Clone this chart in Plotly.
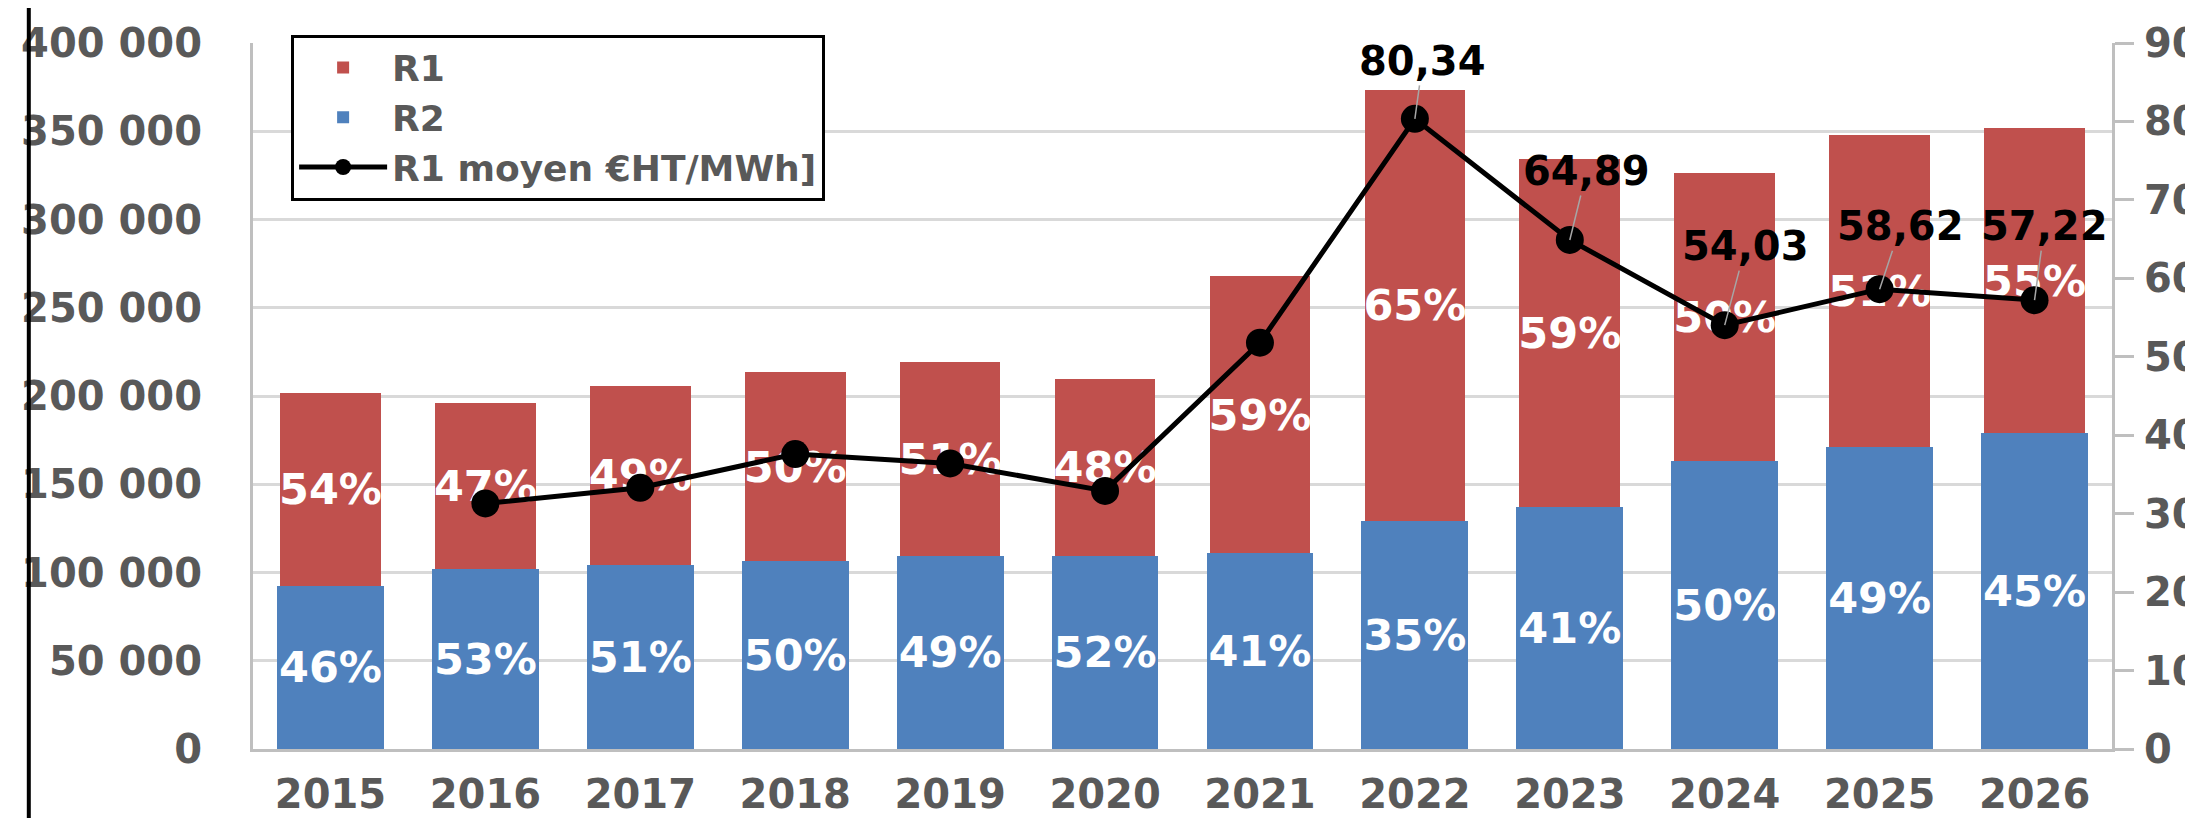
import plotly.graph_objects as go

# ---- data ----
years = ["2015", "2016", "2017", "2018", "2019", "2020",
         "2021", "2022", "2023", "2024", "2025", "2026"]
r2_values = [92500, 102000, 104400, 106300, 109500, 109500,
             111000, 129400, 137300, 163000, 171000, 178900]
r1_values = [109200, 94000, 101300, 107300, 109800, 100100,
             156800, 244100, 197000, 163300, 176900, 172900]
r1_share_labels = ["54%", "47%", "49%", "50%", "51%", "48%",
                   "59%", "65%", "59%", "50%", "51%", "55%"]
r2_share_labels = ["46%", "53%", "51%", "50%", "49%", "52%",
                   "41%", "35%", "41%", "50%", "49%", "45%"]
r1_mean_price = [None, 31.3, 33.3, 37.6, 36.4, 32.9,
                 51.8, 80.34, 64.89, 54.03, 58.62, 57.22]
labelled_years = ["2022", "2023", "2024", "2025", "2026"]

# ---- styles ----
FONT = "DejaVu Sans"
GREY_TXT = "#595959"
RED = "#C0504D"
BLUE = "#4F81BD"
GRID = "#D9D9D9"
AXIS = "#BFBFBF"

fig = go.Figure()

fig.add_trace(go.Bar(
    x=years, y=r2_values, name="R2", width=0.69,
    marker=dict(color=BLUE, line=dict(width=0)),
    text=r2_share_labels, textposition="inside", insidetextanchor="middle",
    textangle=0, constraintext="none",
    textfont=dict(family=FONT, size=43, color="white", weight="bold"),
    legendrank=2,
))
fig.add_trace(go.Bar(
    x=years, y=r1_values, name="R1", width=0.65,
    marker=dict(color=RED, line=dict(width=0)),
    text=r1_share_labels, textposition="inside", insidetextanchor="middle",
    textangle=0, constraintext="none",
    textfont=dict(family=FONT, size=43, color="white", weight="bold"),
    legendrank=1,
))
fig.add_trace(go.Scatter(
    x=years, y=r1_mean_price, name="R1 moyen €HT/MWh]", yaxis="y2",
    mode="lines+markers", connectgaps=False,
    line=dict(color="black", width=5),
    marker=dict(color="black", size=28),
    legendrank=3,
))

# value labels with leader lines for the last points
offsets = {"2022": (8, -58), "2023": (17, -69), "2024": (21, -79),
           "2025": (21, -63), "2026": (10, -74)}
for yr in labelled_years:
    i = years.index(yr)
    v = r1_mean_price[i]
    ax, ay = offsets[yr]
    fig.add_annotation(
        x=i, y=v, xref="x", yref="y2",
        text=f"{v:.2f}".replace(".", ","),
        showarrow=True, arrowhead=0, arrowwidth=1.5, arrowcolor="#A6A6A6",
        ax=ax, ay=ay, standoff=0,
        font=dict(family=FONT, size=40, color="black", weight="bold"),
    )

# left black border of the original chart frame
fig.add_shape(type="line", xref="paper", yref="paper",
              x0=-0.1206, x1=-0.1206, y0=-0.2, y1=1.2,
              line=dict(color="black", width=4))

fig.update_layout(
    width=2193, height=818,
    margin=dict(l=245, r=89, t=35, b=77),
    paper_bgcolor="white", plot_bgcolor="white",
    barmode="stack",
    separators=", ",
    font=dict(family=FONT, size=40, color=GREY_TXT, weight="bold"),
    showlegend=True,
    legend=dict(
        x=0.0205, y=1.012, xanchor="left", yanchor="top",
        bgcolor="white", bordercolor="black", borderwidth=3,
        font=dict(family=FONT, size=36, color=GREY_TXT, weight="bold"),
        traceorder="normal", itemwidth=88, tracegroupgap=0,
    ),
    xaxis=dict(
        type="category", range=[-0.5, 11.5], showgrid=False,
        showline=True, linecolor=AXIS,
        linewidth=3, ticks="", ticklabelstandoff=8, automargin=False,
        tickfont=dict(family=FONT, size=40, color=GREY_TXT, weight="bold"),
    ),
    yaxis=dict(
        range=[0, 400000], dtick=50000, tickformat=",d",
        showgrid=True, gridcolor=GRID, gridwidth=3,
        showline=True, linecolor=AXIS, linewidth=3, zeroline=False,
        ticks="", ticklabelstandoff=40, automargin=False,
        tickfont=dict(family=FONT, size=40, color=GREY_TXT, weight="bold"),
    ),
    yaxis2=dict(
        range=[0, 90], dtick=10, overlaying="y", side="right",
        showgrid=False, showline=True, linecolor=AXIS, linewidth=3,
        zeroline=False, ticks="outside", ticklen=19, tickwidth=3,
        tickcolor=AXIS, ticklabelstandoff=2, automargin=False,
        tickfont=dict(family=FONT, size=40, color=GREY_TXT, weight="bold"),
    ),
)

fig.write_html("out.html")
